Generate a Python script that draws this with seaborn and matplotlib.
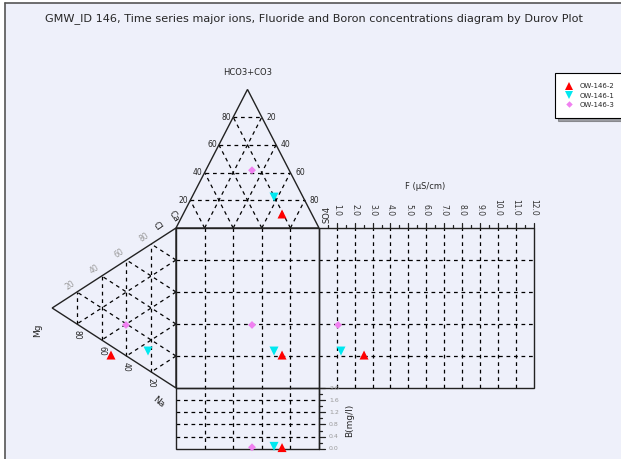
import numpy as np
import pandas as pd
import matplotlib
matplotlib.use("Agg")
import matplotlib.pyplot as plt
import seaborn as sns
from matplotlib.lines import Line2D
from matplotlib.patches import Rectangle, Polygon

sns.set_style("white")
plt.rcParams["font.family"] = ["DejaVu Sans"]

# ---------------- data ----------------
samples = ["OW-146-2", "OW-146-1", "OW-146-3"]
colors = ["#FF0000", "#00E8F0", "#F080F0"]
markers = ["^", "v", "D"]
sizes = [42, 42, 16]

# anions (% of meq)
hco3 = [10.1, 22.3, 41.7]
so4 = [69.1, 57.4, 32.3]
cl = [20.8, 20.3, 26.0]
# cations (% of meq)
ca = [0.5, 11.8, 19.2]
mg = [52.5, 22.6, 40.4]
na = [59.3, 65.6, 40.4]
# fluoride and boron
fluoride = [2.52, 1.23, 1.07]
boron = [0.04, 0.08, 0.05]

tern_ticks = [20, 40, 60, 80]
f_ticks = list(range(1, 13))
b_ticks = [0.0, 0.4, 0.8, 1.2, 1.6, 2.0]

TITLE = ("GMW_ID 146, Time series major ions, Fluoride and Boron "
         "concentrations diagram by Durov Plot")

# ---------------- geometry ----------------
S3 = np.sqrt(3) / 2          # triangle height factor
F_SCALE = 12.5               # data units per F unit
B_LOW, B_SCALE = -38.0, 19.0 # B rectangle origin / units per B unit
BG = "#EEF0FA"
LINE = "#222222"
DASH = (0, (3, 3))

fig = plt.figure(figsize=(6.21, 4.59), dpi=100)
fig.patch.set_facecolor("white")
fig.add_artist(Rectangle((5 / 621, 0), 1, 1 - 3 / 459, transform=fig.transFigure,
                         facecolor=BG, edgecolor="none", zorder=-10))
fig.add_artist(Line2D([5 / 621, 5 / 621], [0, 1 - 3 / 459], transform=fig.transFigure,
                      color="#555555", lw=1.2))
fig.add_artist(Line2D([5 / 621, 1], [1 - 3 / 459, 1 - 3 / 459], transform=fig.transFigure,
                      color="#555555", lw=1.2))

ax = fig.add_axes([0, 0, 1, 1])
ax.patch.set_alpha(0)
XLIM = ((0 - 176) / 1.43, (621 - 176) / 1.43)
YLIM = ((388 - 459) / 1.6, (388 - 0) / 1.6)
ax.set_xlim(*XLIM)
ax.set_ylim(*YLIM)
ax.axis("off")


def px(dx, dy):
    """offset in points from pixel offset"""
    return (dx * 0.72, dy * 0.72)


def dline(x, y, **kw):
    ax.plot(x, y, color="black", lw=0.9, linestyle=DASH, zorder=1, **kw)


# ---------------- frames ----------------
ax.add_patch(Polygon([[0, 100], [100, 100], [50, 100 + S3 * 100]], closed=True,
                     fill=False, edgecolor=LINE, lw=1.0, zorder=2))
ax.add_patch(Polygon([[0, 0], [0, 100], [-S3 * 100, 50]], closed=True,
                     fill=False, edgecolor=LINE, lw=1.0, zorder=2))
ax.add_patch(Rectangle((0, 0), 100, 100, fill=False, edgecolor=LINE, lw=1.0, zorder=2))
ax.add_patch(Rectangle((100, 0), F_SCALE * 12, 100, fill=False, edgecolor=LINE, lw=1.0, zorder=2))
ax.add_patch(Rectangle((0, B_LOW), 100, -B_LOW, fill=False, edgecolor=LINE, lw=1.0, zorder=2))

# ---------------- grids ----------------
for v in tern_ticks:
    # top triangle
    dline([v / 2, 100 - v / 2], [100 + S3 * v, 100 + S3 * v])
    dline([v, v + (100 - v) / 2], [100, 100 + S3 * (100 - v)])
    dline([v, v / 2], [100, 100 + S3 * v])
    # left triangle
    dline([-S3 * v, -S3 * v], [0.5 * v, 100 - 0.5 * v])
    dline([0, -S3 * v], [v, v / 2])
    dline([0, -S3 * (100 - v)], [v, v + (100 - v) / 2])
    # square
    dline([v, v], [B_LOW, 100])
    dline([0, 100 + F_SCALE * 12], [v, v])

for i in f_ticks[:-1]:
    dline([100 + F_SCALE * i, 100 + F_SCALE * i], [0, 100])
for b in b_ticks[1:-1]:
    yb = B_LOW + B_SCALE * b
    dline([0, 100], [yb, yb])

# ---------------- F axis (top of right rectangle) ----------------
for i in f_ticks:
    xf = 100 + F_SCALE * i
    ax.plot([xf, xf], [100, 100 + 3.4], color=LINE, lw=0.9)
    ax.plot([xf - F_SCALE / 2] * 2, [100, 100 + 2.0], color=LINE, lw=0.9)
    ax.annotate(f"{i}.0", (xf, 100), xytext=px(0, 12), textcoords="offset points",
                rotation=270, ha="center", va="bottom", fontsize=5.5, color="#333333")
ax.text(174, 126, "F (µS/cm)", ha="center", va="center", fontsize=6)

# ---------------- B axis ----------------
ax.plot([100, 100], [B_LOW, 0], color=LINE, lw=1.0)
for k in range(11):
    b = 0.2 * k
    yb = B_LOW + B_SCALE * b
    L = 4.2 if k % 2 == 0 else 2.1
    ax.plot([100, 100 + L], [yb, yb], color=LINE, lw=0.9)
for b in b_ticks:
    ax.annotate(f"{b:.1f}", (100, B_LOW + B_SCALE * b), xytext=px(10, 0),
                textcoords="offset points", ha="left", va="center",
                fontsize=4.5, color="#9a9a9a")
ax.text(121.5, -20, "B(mg/l)", rotation=90, ha="center", va="center", fontsize=6.5)

# ---------------- ternary labels ----------------
for v in tern_ticks:
    ax.annotate(str(v), (v / 2, 100 + S3 * v), xytext=px(-2, 0), textcoords="offset points",
                ha="right", va="center", fontsize=5.5)
    ax.annotate(str(100 - v), (100 - v / 2, 100 + S3 * v), xytext=px(5, 0),
                textcoords="offset points", ha="left", va="center", fontsize=5.5)
    ax.annotate(str(100 - v), (-S3 * v, 100 - 0.5 * v), xytext=px(-7, 7),
                textcoords="offset points", ha="center", va="center", rotation=33,
                fontsize=5.5, color="#9a9a9a")
    ax.annotate(str(v), (-S3 * v, 0.5 * v), xytext=px(0, -11), textcoords="offset points",
                ha="center", va="center", rotation=270, fontsize=5.5)

ax.text(50, 197, "HCO3+CO3", ha="center", va="center", fontsize=6)
ax.text(105.8, 108.5, "SO4", rotation=90, ha="center", va="center", fontsize=6)
ax.text(-13, 101, "Cl", rotation=-55, ha="center", va="center", fontsize=6.5)
ax.text(-1.5, 107, "Ca", rotation=-55, ha="center", va="center", fontsize=6.5)
ax.text(-97, 36, "Mg", rotation=90, ha="center", va="center", fontsize=6.5)
ax.text(-12.5, -8.5, "Na", rotation=-40, ha="center", va="center", fontsize=6.5)

# ---------------- points ----------------
df = pd.DataFrame({"sample": samples, "hco3": hco3, "so4": so4, "cl": cl,
                   "ca": ca, "mg": mg, "na": na, "F": fluoride, "B": boron})
an_x = 50 + (df["so4"] - df["cl"]) / 2
an_y = 100 + S3 * df["hco3"]
cat_x = -S3 * df["mg"]
cat_y = 50 + (df["ca"] - df["na"]) / 2
panels = [
    pd.DataFrame({"x": an_x, "y": an_y}),
    pd.DataFrame({"x": cat_x, "y": cat_y}),
    pd.DataFrame({"x": an_x, "y": cat_y}),
    pd.DataFrame({"x": 100 + F_SCALE * df["F"], "y": cat_y}),
    pd.DataFrame({"x": an_x, "y": B_LOW + B_SCALE * df["B"]}),
]
pts = []
for p in panels:
    p = p.copy()
    p["sample"] = samples
    pts.append(p)
pts = pd.concat(pts, ignore_index=True)

pal = dict(zip(samples, colors))
mk = dict(zip(samples, markers))
sz = dict(zip(samples, sizes))
sns.scatterplot(data=pts, x="x", y="y", hue="sample", style="sample", size="sample",
                palette=pal, markers=mk, sizes=sz, hue_order=samples,
                edgecolor="none", linewidth=0, legend=False, ax=ax, zorder=5)
ax.set_xlim(*XLIM)
ax.set_ylim(*YLIM)
ax.axis("off")

# ---------------- legend & title ----------------
handles = [Line2D([], [], linestyle="none", marker=m, color=c,
                  markersize=(5.2 if m != "D" else 3.3), markeredgewidth=0)
           for m, c in zip(markers, colors)]
leg = ax.legend(handles, samples, loc="upper left",
                bbox_to_anchor=(555 / 621, 1 - 73 / 459), bbox_transform=fig.transFigure,
                frameon=True, fancybox=False, shadow=True, fontsize=5,
                borderaxespad=0, handlelength=1.0, handletextpad=1.1,
                labelspacing=0.45, borderpad=1.5)
leg.get_frame().set_edgecolor("black")
leg.get_frame().set_facecolor("white")
leg.get_frame().set_linewidth(0.8)

fig.text(314 / 621, 1 - 19 / 459, TITLE, ha="center", va="center", fontsize=8.1)

fig.savefig("out.png", dpi=100)
